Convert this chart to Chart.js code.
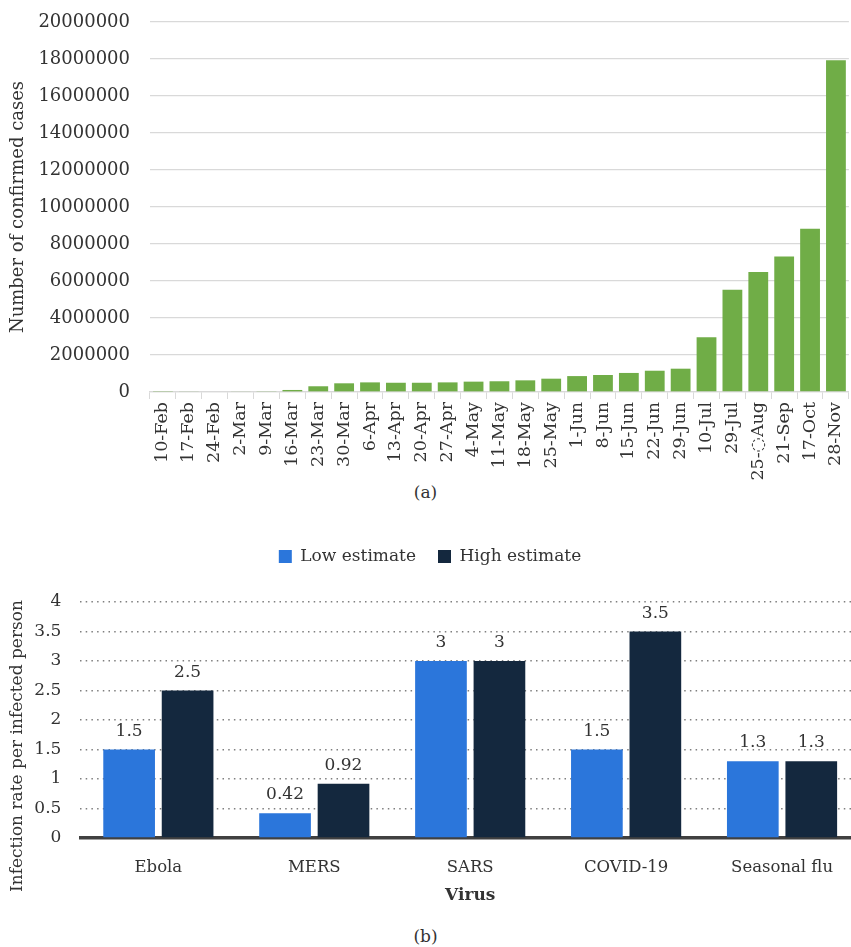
<!DOCTYPE html>
<html>
<head>
<meta charset="utf-8">
<script src="https://cdn.jsdelivr.net/npm/chart.js@4.4.0/dist/chart.umd.min.js"></script>
<style>
  html, body { margin: 0; padding: 0; background: #fff; overflow: hidden; width: 851px; height: 947px; }
  .box { position: absolute; left: 0; }
  .cap { position: absolute; width: 851px; text-align: center; font-family: "DejaVu Serif", serif; font-size: 17px; color: #333; }
</style>
</head>
<body>
<div class="box" style="top:0"><canvas id="casesChart" width="860" height="480"></canvas></div>
<div class="cap" style="top:482px">(a)</div>
<div class="box" style="top:524px"><canvas id="rateChart" width="860" height="386"></canvas></div>
<div class="cap" style="top:926px">(b)</div>

<script>
// chart (a): weekly confirmed cases
const weekLabels = ['10-Feb', '17-Feb', '24-Feb', '2-Mar', '9-Mar', '16-Mar', '23-Mar', '30-Mar',
  '6-Apr', '13-Apr', '20-Apr', '27-Apr', '4-May', '11-May', '18-May', '25-May', '1-Jun', '8-Jun',
  '15-Jun', '22-Jun', '29-Jun', '10-Jul', '29-Jul', '25-\u25CCAug', '21-Sep', '17-Oct', '28-Nov'];
const confirmedCases = [20000, 30000, 35000, 40000, 45000, 110000, 310000, 470000,
  520000, 500000, 500000, 520000, 560000, 580000, 630000, 720000, 860000, 920000,
  1030000, 1150000, 1260000, 2960000, 5530000, 6490000, 7330000, 8830000, 17930000];
const casesTicks = { min: 0, max: 20000000, step: 2000000 };

// chart (b): infection rate per virus
const viruses = ['Ebola', 'MERS', 'SARS', 'COVID-19', 'Seasonal flu'];
const lowEstimate = [1.5, 0.42, 3, 1.5, 1.3];
const highEstimate = [2.5, 0.92, 3, 3.5, 1.3];
const rateTicks = { min: 0, max: 4, step: 0.5 };

const FONT = '"DejaVu Serif", serif';
const TEXT = '#333333';

Chart.defaults.font.family = FONT;
Chart.defaults.color = TEXT;

new Chart(document.getElementById('casesChart'), {
  type: 'bar',
  data: {
    labels: weekLabels,
    datasets: [{
      label: 'Confirmed cases',
      data: confirmedCases,
      backgroundColor: '#70ad47',
      barPercentage: 0.765,
      categoryPercentage: 1
    }]
  },
  options: {
    responsive: false,
    animation: false,
    layout: { padding: { top: 22, right: 3.4, left: 0, bottom: 0 } },
    plugins: { legend: { display: false }, tooltip: { enabled: false } },
    scales: {
      x: {
        grid: { offset: true, drawOnChartArea: false, color: '#d9d9d9', tickLength: 7 },
        border: { color: '#d9d9d9', width: 1.3 },
        ticks: { minRotation: 90, maxRotation: 90, autoSkip: false, padding: 3, font: { size: 17.5 } },
        afterFit: s => { s.height = 88; }
      },
      y: {
        min: casesTicks.min,
        max: casesTicks.max,
        // invisible tick marks give the gap between labels and plot without extra top padding
        grid: { color: '#d9d9d9', lineWidth: 1.3, drawTicks: true, tickLength: 20, tickColor: 'rgba(0,0,0,0)' },
        border: { display: false },
        ticks: { stepSize: casesTicks.step, padding: 0, font: { size: 18 }, callback: v => String(v) },
        title: { display: true, text: 'Number of confirmed cases', font: { size: 18 }, padding: { top: 8, bottom: 4 } },
        afterFit: s => { s.width = 150; }
      }
    }
  }
});

// value labels above the bars
const valueLabels = {
  id: 'valueLabels',
  afterDatasetsDraw(chart) {
    const ctx = chart.ctx;
    ctx.save();
    ctx.font = '17px ' + FONT;
    ctx.fillStyle = TEXT;
    ctx.textAlign = 'center';
    ctx.textBaseline = 'alphabetic';
    chart.data.datasets.forEach((ds, i) => {
      chart.getDatasetMeta(i).data.forEach((bar, j) => {
        ctx.fillText(String(ds.data[j]), bar.x, bar.y - 14);
      });
    });
    ctx.restore();
  }
};

// y title placed like the original (centred lower than the plot)
const rateTitle = {
  id: 'rateTitle',
  afterDraw(chart) {
    const ctx = chart.ctx;
    ctx.save();
    ctx.translate(18, 222);
    ctx.rotate(-Math.PI / 2);
    ctx.font = '17px ' + FONT;
    ctx.fillStyle = TEXT;
    ctx.textAlign = 'center';
    ctx.textBaseline = 'middle';
    ctx.fillText('Infection rate per infected person', 0, 0);
    ctx.restore();
  }
};

const tallLegend = {
  id: 'tallLegend',
  beforeInit(chart) {
    const fit = chart.legend.fit;
    chart.legend.fit = function () {
      fit.bind(chart.legend)();
      this.height = 76;
    };
  }
};

new Chart(document.getElementById('rateChart'), {
  type: 'bar',
  data: {
    labels: viruses,
    datasets: [
      { label: 'Low estimate', data: lowEstimate, backgroundColor: '#2b76db' },
      { label: 'High estimate', data: highEstimate, backgroundColor: '#14283e' }
    ]
  },
  options: {
    responsive: false,
    animation: false,
    datasets: { bar: { categoryPercentage: 0.75, barPercentage: 0.884 } },
    layout: { padding: { top: 2, left: 0, right: 0, bottom: 0 } },
    plugins: {
      tooltip: { enabled: false },
      legend: {
        position: 'top',
        labels: { boxWidth: 13, boxHeight: 13, padding: 22, color: TEXT, font: { size: 17 } }
      }
    },
    scales: {
      x: {
        grid: { display: false },
        border: { color: '#404040', width: 3.5 },
        ticks: { padding: 12, font: { size: 16.5 } },
        title: { display: true, text: 'Virus', font: { size: 17, weight: 'bold' }, padding: 4 },
        afterFit: s => { s.height = 72; }
      },
      y: {
        min: rateTicks.min,
        max: rateTicks.max,
        grid: { color: '#7f7f7f', lineWidth: 1.5, drawTicks: false },
        border: { display: false, dash: [1.5, 4.2] },
        ticks: { stepSize: rateTicks.step, padding: 19, font: { size: 17 }, callback: v => String(v) },
        afterFit: s => { s.width = 80.4; }
      }
    }
  },
  plugins: [valueLabels, rateTitle, tallLegend]
});
</script>
</body>
</html>
